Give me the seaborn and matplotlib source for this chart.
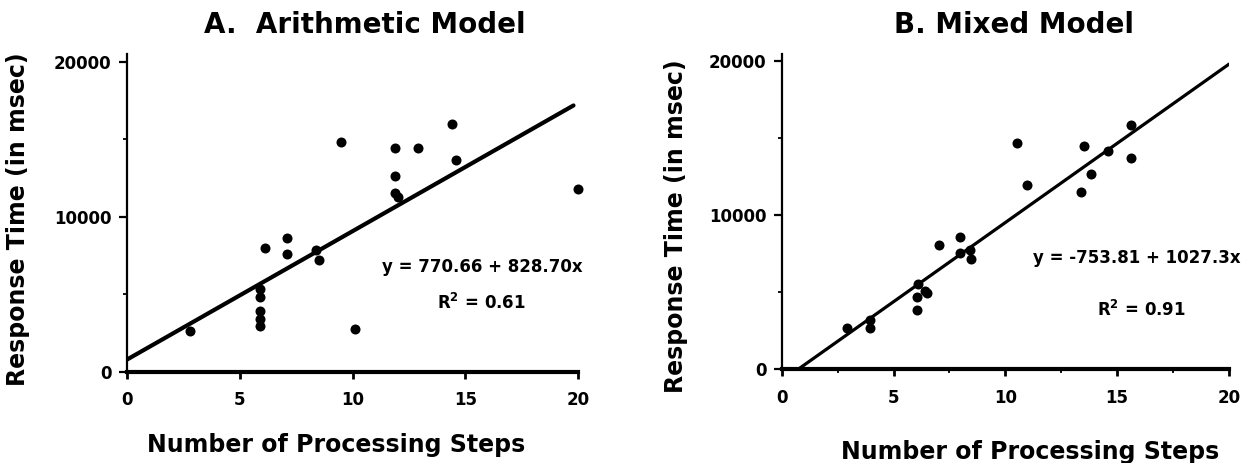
import numpy as np
import pandas as pd
import matplotlib
matplotlib.use("Agg")
import matplotlib.pyplot as plt
import seaborn as sns
from matplotlib.ticker import MultipleLocator

# values
a_steps = [2.8, 5.9, 5.9, 5.9, 5.9, 5.9, 6.1, 7.1, 7.1, 8.5, 8.4, 9.5, 10.1,
           11.9, 11.9, 11.9, 12.0, 12.9, 14.4, 14.6, 20.0]
a_rt = [2600, 5300, 4800, 3900, 3400, 2950, 7950, 8650, 7600, 7170, 7850, 14800, 2750,
        14450, 12600, 11500, 11250, 14450, 15980, 13650, 11800]

b_steps = [2.9, 3.95, 3.95, 6.05, 6.05, 6.1, 6.4, 6.5, 7.05, 7.95, 7.95, 8.4, 8.45,
           10.5, 10.95, 13.4, 13.5, 13.85, 14.6, 15.6, 15.6]
b_rt = [2700, 3180, 2650, 3830, 4670, 5500, 5100, 4960, 8030, 8550, 7560, 7730, 7160,
        14670, 11950, 11500, 14480, 12650, 14170, 15850, 13680]

# fitted lines as printed on the chart (intercept, slope) and the x span drawn
a_fit = (770.66, 828.70)
b_fit = (-753.81, 1027.3)
a_span = [0, 19.8]
b_span = [0.734, 20]

xticks = [0, 5, 10, 15, 20]
yticks = [0, 10000, 20000]

sns.set_theme(style="ticks")
plt.rcParams['font.family'] = ['DejaVu Sans']
plt.rcParams['font.weight'] = 'bold'
for key in ['text.color', 'axes.labelcolor', 'xtick.color', 'ytick.color', 'axes.edgecolor']:
    plt.rcParams[key] = 'black'

fig = plt.figure(figsize=(12.54, 4.63), dpi=100)
ax_a = fig.add_axes([0.10128, 0.19762, 0.35965, 0.6857])
ax_b = fig.add_axes([0.62337, 0.20238, 0.3567, 0.681])

panels = [
    (ax_a, a_steps, a_rt, a_fit, a_span, "A.  Arithmetic Model", 20500, 3.0,
     "y = 770.66 + 828.70x", "R$^2$ = 0.61", (15.74, 6750), (15.74, 4420),
     (0.528, 1.065), (-0.242, 0.480), (0.463, -0.231), False),
    (ax_b, b_steps, b_rt, b_fit, b_span, "B. Mixed Model", 20450, 2.3,
     "y = -753.81 + 1027.3x", "R$^2$ = 0.91", (15.88, 7210), (16.1, 3840),
     (0.519, 1.066), (-0.236, 0.455), (0.555, -0.262), True),
]

for (ax, xs, ys, fit, span, title, ytop, lw, eq, r2, eq_pos, r2_pos,
     t_pos, yl_pos, xl_pos, xminor) in panels:
    df = pd.DataFrame({"steps": xs, "rt": ys})
    sns.scatterplot(data=df, x="steps", y="rt", ax=ax, color="black",
                    s=52, edgecolor="black", linewidth=0, clip_on=False, zorder=3)
    line = pd.DataFrame({"steps": span})
    line["rt"] = fit[0] + fit[1] * line["steps"]
    sns.lineplot(data=line, x="steps", y="rt", ax=ax, color="black",
                 linewidth=lw, zorder=2)

    ax.set_xlim(0, 20)
    ax.set_ylim(0, ytop)
    ax.set_xticks(xticks)
    ax.set_yticks(yticks)
    ax.yaxis.set_minor_locator(MultipleLocator(5000))
    if xminor:
        ax.xaxis.set_minor_locator(MultipleLocator(2.5))
    ax.tick_params(axis="x", which="major", direction="out", length=5, width=2,
                   pad=9, labelsize=12)
    ax.tick_params(axis="y", which="major", direction="out", length=6, width=1.6,
                   pad=5, labelsize=12)
    ax.tick_params(which="minor", direction="out", length=3, width=1.3)
    for lab in ax.get_xticklabels() + ax.get_yticklabels():
        lab.set_fontweight("bold")

    sns.despine(ax=ax)
    ax.spines["bottom"].set_linewidth(3.0)
    ax.spines["left"].set_linewidth(1.6)

    ax.set_title(title, fontsize=20, fontweight="bold", x=t_pos[0], y=t_pos[1],
                 va="center")
    ax.set_ylabel("Response Time (in msec)", fontsize=17, fontweight="bold",
                  va="center")
    ax.yaxis.set_label_coords(*yl_pos)
    ax.set_xlabel("Number of Processing Steps", fontsize=17, fontweight="bold",
                  va="center")
    ax.xaxis.set_label_coords(*xl_pos)

    ax.text(eq_pos[0], eq_pos[1], eq, fontsize=12, fontweight="bold",
            ha="center", va="center")
    ax.text(r2_pos[0], r2_pos[1], r2, fontsize=12, fontweight="bold",
            ha="center", va="center")

fig.savefig("out.png", dpi=100, facecolor="white")
